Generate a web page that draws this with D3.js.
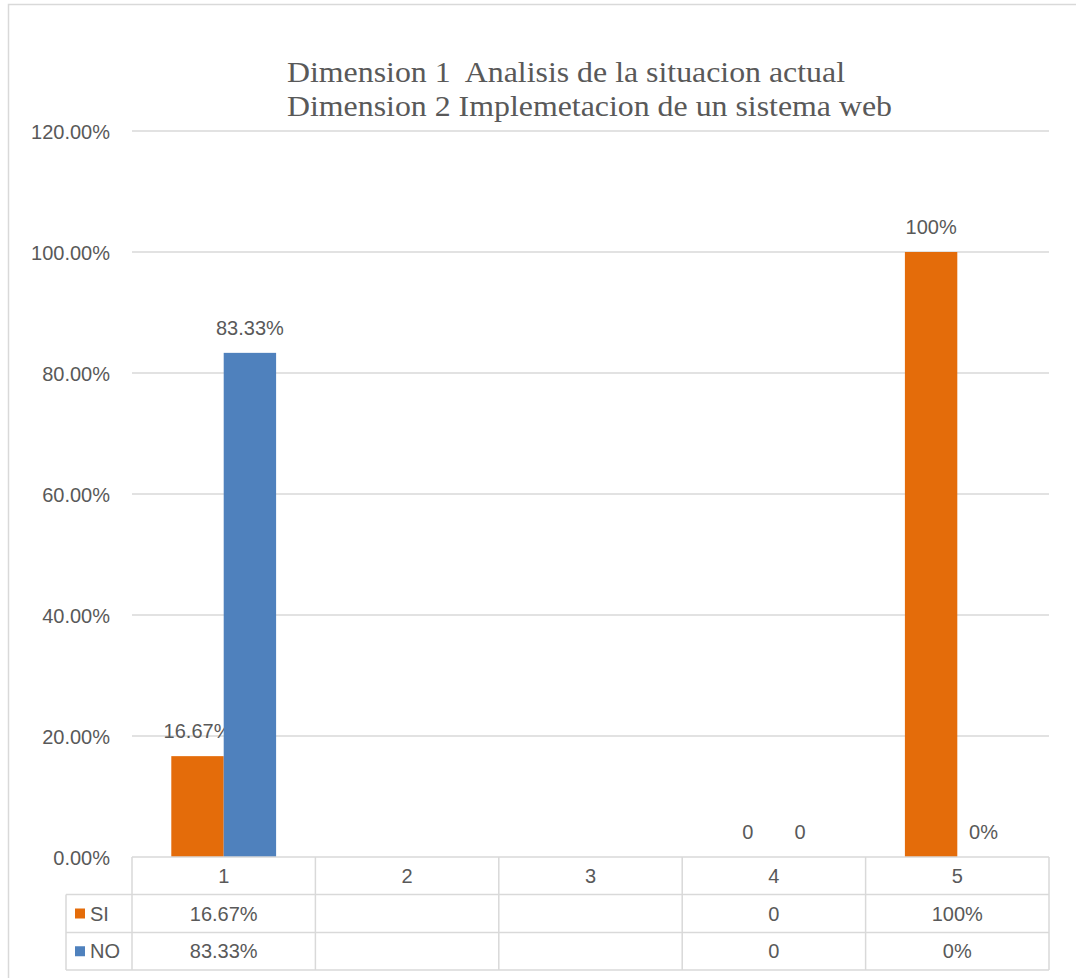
<!DOCTYPE html>
<html>
<head>
<meta charset="utf-8">
<script src="https://cdn.jsdelivr.net/npm/d3@7"></script>
<style>
  html, body { margin: 0; padding: 0; background: #fff; }
  svg { display: block; }
</style>
</head>
<body>
<svg id="chart" width="1076" height="978"></svg>
<script>
const categories = ["1", "2", "3", "4", "5"];
const seriesNames = ["SI", "NO"];
const siValues = [0.1667, null, null, 0, 1.0];
const noValues = [0.8333, null, null, 0, 0];
const siLabels = ["16.67%", "", "", "0", "100%"];
const noLabels = ["83.33%", "", "", "0", "0%"];
const yTicks = [0, 0.2, 0.4, 0.6, 0.8, 1.0, 1.2];
const titleLines = ["Dimension 1  Analisis de la situacion actual", "Dimension 2 Implemetacion de un sistema web"];
const colors = { SI: "#E46C0A", NO: "#4F81BD" };

const series = [
  { name: "SI", values: siValues, labels: siLabels },
  { name: "NO", values: noValues, labels: noLabels }
];

const svg = d3.select("#chart");
const textColor = "#595959";
const lineColor = "#d9d9d9";
const sans = "'Liberation Sans', Arial, sans-serif";

// chart outer border (extends beyond the canvas on right/bottom)
svg.append("rect").attr("x", 8.5).attr("y", 4.5).attr("width", 1200).attr("height", 1200)
  .attr("fill", "none").attr("stroke", lineColor).attr("stroke-width", 1.5);

const plot = { left: 132, right: 1049, top: 131, bottom: 857 };

const x0 = d3.scaleBand().domain(categories).range([plot.left, plot.right]).padding(0);
const x1 = d3.scaleBand().domain(seriesNames).range([0, x0.bandwidth()]).paddingInner(0).paddingOuter(0.75);
const y = d3.scaleLinear().domain([0, 1.2]).range([plot.bottom, plot.top]);

// gridlines
svg.append("g").selectAll("line").data(yTicks.filter(d => d > 0)).join("line")
  .attr("x1", plot.left).attr("x2", plot.right)
  .attr("y1", d => y(d)).attr("y2", d => y(d))
  .attr("stroke", lineColor).attr("stroke-width", 1.5);

// y axis labels
const yAxis = d3.axisLeft(y).tickValues(yTicks).tickFormat(d3.format(".2%")).tickSize(0).tickPadding(0);
const yg = svg.append("g").attr("transform", `translate(110,0)`).call(yAxis);
yg.select(".domain").remove();
yg.selectAll("text").attr("fill", textColor).style("font-family", sans).style("font-size", "20px").attr("dy", "0.35em");

// title
const title = svg.append("g");
titleLines.forEach((t, i) => {
  title.append("text")
    .attr("x", 287).attr("y", 82 + i * 34)
    .attr("fill", textColor)
    .style("font-family", "'Liberation Serif', 'Times New Roman', serif")
    .style("font-size", "30px")
    .style("white-space", "pre")
    .attr("xml:space", "preserve")
    .attr("textLength", i === 0 ? 558 : 605)
    .attr("lengthAdjust", "spacingAndGlyphs")
    .text(t);
});

// bars
const barG = svg.append("g");
series.forEach(s => {
  const g = barG.append("g");
  const data = categories.map((c, i) => ({ c, v: s.values[i], label: s.labels[i] }));
  g.selectAll("rect").data(data.filter(d => d.v !== null && d.v > 0)).join("rect")
    .attr("x", d => x0(d.c) + x1(s.name))
    .attr("width", x1.bandwidth())
    .attr("y", d => y(d.v))
    .attr("height", d => y(0) - y(d.v))
    .attr("fill", colors[s.name]);
  g.selectAll("text").data(data.filter(d => d.v !== null)).join("text")
    .attr("x", d => x0(d.c) + x1(s.name) + x1.bandwidth() / 2)
    .attr("y", d => y(d.v) - 18)
    .attr("text-anchor", "middle")
    .attr("fill", textColor)
    .style("font-family", sans).style("font-size", "20px")
    .text(d => d.label);
});

// data table
const rowH = [857, 894.5, 932.5, 970];
const legendLeft = 66;
const tg = svg.append("g").attr("stroke", lineColor).attr("stroke-width", 1.5);
tg.append("line").attr("x1", plot.left).attr("x2", plot.right).attr("y1", rowH[0]).attr("y2", rowH[0]);
[1, 2, 3].forEach(i => {
  tg.append("line").attr("x1", legendLeft).attr("x2", plot.right).attr("y1", rowH[i]).attr("y2", rowH[i]);
});
const colEdges = categories.map(c => x0(c)).concat([plot.right]);
colEdges.forEach(xv => {
  tg.append("line").attr("x1", xv).attr("x2", xv).attr("y1", rowH[0]).attr("y2", rowH[3]);
});
tg.append("line").attr("x1", legendLeft).attr("x2", legendLeft).attr("y1", rowH[1]).attr("y2", rowH[3]);

const txt = svg.append("g").attr("fill", textColor).style("font-family", sans).style("font-size", "20px");
categories.forEach(c => {
  txt.append("text").attr("x", x0(c) + x0.bandwidth() / 2).attr("y", (rowH[0] + rowH[1]) / 2)
    .attr("dy", "0.35em").attr("text-anchor", "middle").text(c);
});
series.forEach((s, si) => {
  const cy = (rowH[si + 1] + rowH[si + 2]) / 2;
  svg.append("rect").attr("x", 75).attr("y", cy - 5).attr("width", 10).attr("height", 10).attr("fill", colors[s.name]);
  txt.append("text").attr("x", 90).attr("y", cy).attr("dy", "0.35em").text(s.name);
  categories.forEach((c, i) => {
    txt.append("text").attr("x", x0(c) + x0.bandwidth() / 2).attr("y", cy)
      .attr("dy", "0.35em").attr("text-anchor", "middle").text(s.labels[i]);
  });
});
</script>
</body>
</html>
